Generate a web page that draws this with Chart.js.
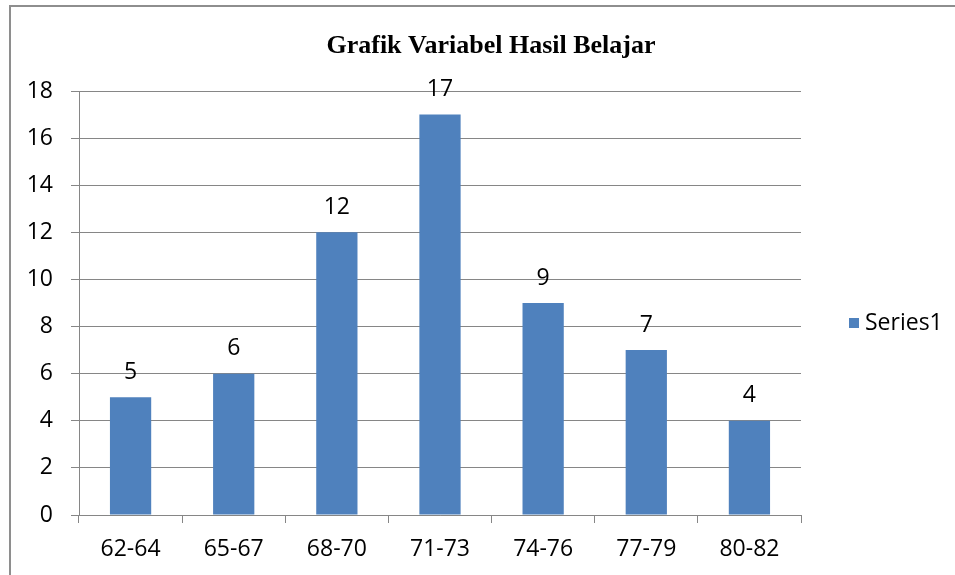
<!DOCTYPE html>
<html>
<head>
<meta charset="utf-8">
<script src="https://cdn.jsdelivr.net/npm/chart.js@4.4.1/dist/chart.umd.min.js"></script>
<style>
  html, body { margin: 0; padding: 0; background: #fff; }
  #wrap { width: 955px; height: 575px; }
</style>
</head>
<body>
<div id="wrap"><canvas id="chart" width="955" height="575"></canvas></div>
<script>
// Chart data
const categories = ['62-64', '65-67', '68-70', '71-73', '74-76', '77-79', '80-82'];
const seriesName = 'Series1';
const seriesValues = [5, 6, 12, 17, 9, 7, 4];
const yTicks = [0, 2, 4, 6, 8, 10, 12, 14, 16, 18];
const chartTitle = 'Grafik Variabel Hasil Belajar';

const BAR_COLOR = '#4F81BD';
const LINE_COLOR = '#868686';
const FONT = "'Open Sans', sans-serif";

// frame, title, value labels and legend
const decorations = {
    id: 'decorations',
    beforeDraw(chart) {
        const ctx = chart.ctx;
        ctx.save();
        ctx.strokeStyle = '#8e8e8e';
        ctx.lineWidth = 2;
        ctx.strokeRect(10, 6, 2000, 2000);
        ctx.restore();
    },
    afterDatasetsDraw(chart) {
        const ctx = chart.ctx;
        const meta = chart.getDatasetMeta(0);
        ctx.save();
        ctx.fillStyle = '#000';
        ctx.font = '23px ' + FONT;
        ctx.textAlign = 'center';
        ctx.textBaseline = 'middle';
        meta.data.forEach((bar, i) => {
            ctx.fillText(String(seriesValues[i]), bar.x, bar.y - 25);
        });
        ctx.restore();
    },
    afterDraw(chart) {
        const ctx = chart.ctx;
        ctx.save();
        // title
        ctx.fillStyle = '#000';
        ctx.font = "bold 26px 'Liberation Serif', serif";
        ctx.textAlign = 'center';
        ctx.textBaseline = 'middle';
        ctx.fillText(chartTitle, 491, 46);
        // legend
        const area = chart.chartArea;
        const midY = (area.top + area.bottom) / 2;
        ctx.fillStyle = chart.data.datasets[0].backgroundColor;
        ctx.fillRect(849, midY + 20 - 5, 10, 10);
        ctx.fillStyle = '#000';
        ctx.font = '23px ' + FONT;
        ctx.textAlign = 'left';
        ctx.fillText(chart.data.datasets[0].label, 865, midY + 20);
        ctx.restore();
    }
};

new Chart(document.getElementById('chart'), {
    type: 'bar',
    data: {
        labels: categories,
        datasets: [{
            label: seriesName,
            data: seriesValues,
            backgroundColor: BAR_COLOR,
            borderWidth: 0,
            categoryPercentage: 1,
            barPercentage: 0.4
        }]
    },
    options: {
        responsive: false,
        animation: false,
        layout: { padding: { top: 91, left: 0, right: 154, bottom: 0 } },
        plugins: {
            legend: { display: false },
            title: { display: false },
            tooltip: { enabled: false }
        },
        scales: {
            x: {
                afterFit(scale) { scale.height = 60; },
                grid: {
                    offset: true,
                    drawOnChartArea: false,
                    drawTicks: true,
                    tickLength: 8,
                    color: LINE_COLOR
                },
                border: { color: LINE_COLOR, width: 1 },
                ticks: {
                    color: '#000',
                    font: { family: FONT, size: 23 },
                    padding: 13,
                    maxRotation: 0
                }
            },
            y: {
                min: 0,
                max: 18,
                afterFit(scale) { scale.width = 79; },
                afterBuildTicks(scale) {
                    scale.ticks = yTicks.map(v => ({ value: v }));
                },
                grid: {
                    color: LINE_COLOR,
                    lineWidth: 1,
                    drawTicks: true,
                    tickLength: 8
                },
                border: { color: LINE_COLOR, width: 1 },
                ticks: {
                    color: '#000',
                    font: { family: FONT, size: 23 },
                    padding: 18
                }
            }
        }
    },
    plugins: [decorations]
});
</script>
</body>
</html>
